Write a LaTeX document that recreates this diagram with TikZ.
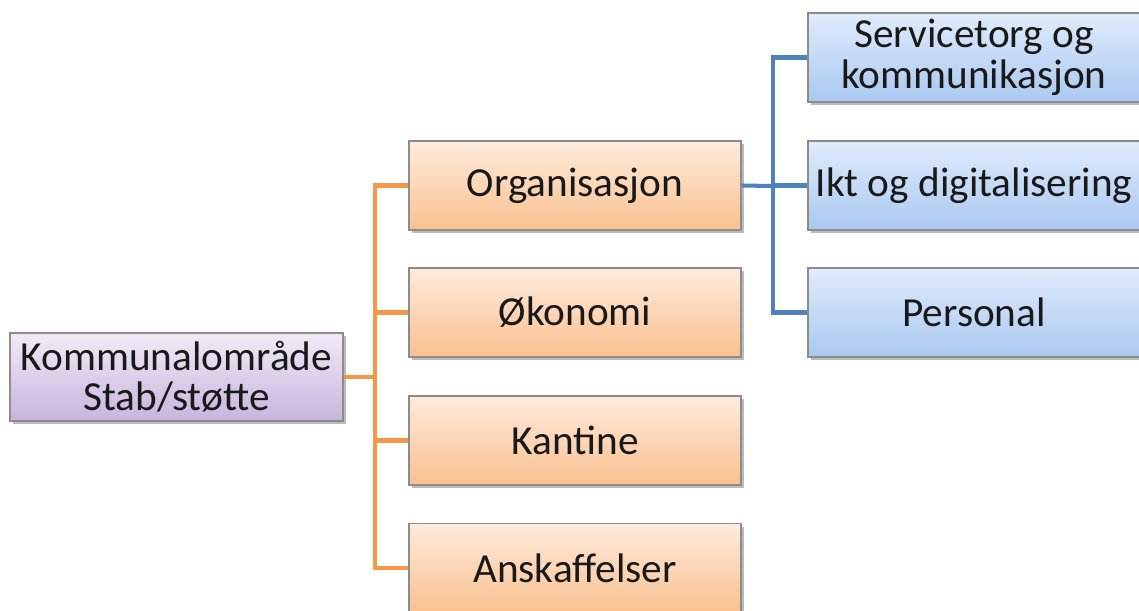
\documentclass[tikz,border=0pt]{standalone}
\usepackage{fontspec}
\setmainfont{Carlito}
\usetikzlibrary{shadows}
\definecolor{orline}{HTML}{F79646}
\definecolor{blline}{HTML}{4F81BD}
\definecolor{ortop}{HTML}{FDEBDD}
\definecolor{orbot}{HTML}{FAC08F}
\definecolor{bltop}{HTML}{E0EBFB}
\definecolor{blbot}{HTML}{A9C8F1}
\definecolor{putop}{HTML}{F1EAF6}
\definecolor{pubot}{HTML}{C8B4DE}
\definecolor{bordgray}{HTML}{8C8C8C}
\tikzset{
  box/.style={draw=bordgray, line width=0.8pt, minimum width=6.64cm, minimum height=1.78cm,
    inner sep=0pt, align=center, font=\fontsize{23.5}{23}\selectfont, text=black!90,
    drop shadow={shadow xshift=0.06cm, shadow yshift=-0.06cm, opacity=0.45, fill=black!60}},
  orbox/.style={box, top color=ortop, bottom color=orbot},
  blbox/.style={box, top color=bltop, bottom color=blbot},
  pubox/.style={box, top color=putop, bottom color=pubot},
  orconn/.style={draw=orline, line width=2.3pt},
  blconn/.style={draw=blline, line width=2.3pt}
}
\begin{document}
\begin{tikzpicture}[x=0.02cm, y=-0.02cm]
\useasboundingbox (0,0) rectangle (1139,610);
\fill[white] (0,0) rectangle (1139,610);
\coordinate (oj) at (375,377);
\coordinate (bj) at (773,186);
\node[pubox, minimum width=6.66cm, minimum height=1.76cm] (k) at (176.5,377) {Kommunalområde\\Stab/støtte};
\node[orbox] (o1) at (575,185.5) {Organisasjon};
\node[orbox] (o2) at (575,312.5) {Økonomi};
\node[orbox] (o3) at (575,440.5) {Kantine};
\node[orbox] (o4) at (575,568) {Anskaffelser};
\node[blbox] (b1) at (974,57.5) {Servicetorg og\\kommunikasjon};
\node[blbox] (b2) at (974,185.5) {Ikt og digitalisering};
\node[blbox] (b3) at (974,312.5) {Personal};
\draw[orconn] (k.east) -- (oj);
\draw[orconn, line cap=rect] (oj |- o1.west) -- (oj |- o4.west);
\foreach \n in {o1,o2,o3,o4} \draw[orconn] (oj |- \n.west) -- (\n.west);
\draw[blconn] (o1.east) -- (bj);
\draw[blconn, line cap=rect] (bj |- b1.west) -- (bj |- b3.west);
\foreach \n in {b1,b2,b3} \draw[blconn] (bj |- \n.west) -- (\n.west);
\end{tikzpicture}
\end{document}
